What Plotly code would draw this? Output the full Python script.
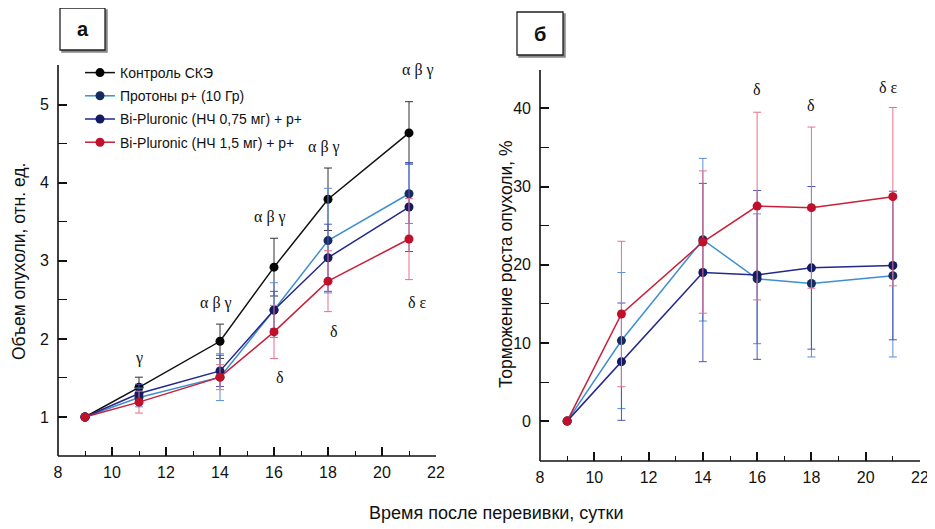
import plotly.graph_objects as go

days = [9, 11, 14, 16, 18, 21]

series_names = ["Контроль СКЭ", "Протоны p+ (10 Гр)",
                "Bi-Pluronic (НЧ 0,75 мг) + p+", "Bi-Pluronic (НЧ 1,5 мг) + p+"]

# Panel a: tumour volume, relative units
vol_control = [1.0, 1.38, 1.97, 2.92, 3.79, 4.64]
vol_control_err = [0, 0.13, 0.22, 0.37, 0.40, 0.40]
vol_protons = [1.0, 1.25, 1.51, 2.37, 3.26, 3.86]
vol_protons_err = [0, 0.12, 0.30, 0.35, 0.67, 0.38]
vol_np075 = [1.0, 1.30, 1.59, 2.37, 3.04, 3.69]
vol_np075_err = [0, 0.12, 0.20, 0.24, 0.43, 0.57]
vol_np15 = [1.0, 1.19, 1.51, 2.09, 2.74, 3.28]
vol_np15_err = [0, 0.14, 0.16, 0.34, 0.39, 0.52]

# Panel б: tumour growth inhibition, %
inh_protons = [0, 10.3, 23.2, 18.2, 17.6, 18.6]
inh_protons_err = [0, 8.7, 10.4, 8.3, 9.4, 10.4]
inh_np075 = [0, 7.6, 19.0, 18.7, 19.6, 19.9]
inh_np075_err = [0, 7.5, 11.4, 10.8, 10.4, 9.5]
inh_np15 = [0, 13.7, 22.9, 27.5, 27.3, 28.7]
inh_np15_err = [0, 9.3, 9.1, 12.0, 10.3, 11.4]

xticks = [8, 10, 12, 14, 16, 18, 20, 22]
vol_ticks = [1, 2, 3, 4, 5]
inh_ticks = [0, 10, 20, 30, 40]

# significance labels (x, y, text)
sig_a_x = [11.0, 13.85, 15.87, 17.85, 21.35, 16.24, 18.22, 21.3]
sig_a_y = [1.76, 2.46, 3.56, 4.46, 5.45, 1.50, 2.10, 2.47]
sig_a_t = ["γ", "α β γ", "α β γ", "α β γ", "α β γ", "δ", "δ", "δ ε"]
sig_b_x = [16.0, 18.0, 20.85]
sig_b_y = [42.4, 40.3, 42.7]
sig_b_t = ["δ", "δ", "δ ε"]

line_colors = ["#111111", "#3f8fd0", "#23288c", "#c8203a"]
marker_colors = ["#050505", "#162c5c", "#121a60", "#c0102a"]
err_colors = ["#333333", "#5a8fd8", "#4a55b8", "#e8708a"]

# page body adds an 8px margin; figure is placed at (8, 8)
W, H = 927, 521
def fx(px):
    return (px - 8) / W
def fy(py):
    return 1 - (py - 8) / H

fig = go.Figure()

vol_vals = [vol_control, vol_protons, vol_np075, vol_np15]
vol_errs = [vol_control_err, vol_protons_err, vol_np075_err, vol_np15_err]
for i in range(4):
    fig.add_trace(go.Scatter(
        x=days, y=vol_vals[i], mode="lines+markers", name=series_names[i],
        legendgroup=f"g{i}",
        line=dict(color=line_colors[i], width=1.5),
        marker=dict(color=marker_colors[i], size=9),
        error_y=dict(type="data", array=vol_errs[i], color=err_colors[i],
                     thickness=1, width=4),
        xaxis="x", yaxis="y"))

inh_vals = [inh_protons, inh_np075, inh_np15]
inh_errs = [inh_protons_err, inh_np075_err, inh_np15_err]
for j in range(3):
    i = j + 1
    fig.add_trace(go.Scatter(
        x=days, y=inh_vals[j], mode="lines+markers", name=series_names[i],
        legendgroup=f"g{i}", showlegend=False,
        line=dict(color=line_colors[i], width=1.5),
        marker=dict(color=marker_colors[i], size=9),
        error_y=dict(type="data", array=inh_errs[j], color=err_colors[i],
                     thickness=1, width=4),
        xaxis="x2", yaxis="y2"))

font_sans = "Liberation Sans Narrow, Liberation Sans, Arial, sans-serif"
tickfont = dict(family=font_sans, size=16, color="#111")

common_x = dict(range=[8, 22], tickvals=xticks, ticks="inside", ticklen=9,
                tickwidth=1.5, tickcolor="#111", showline=False,
                showgrid=False, zeroline=False, tickfont=tickfont,
                ticklabelstandoff=5, automargin=False,
                minor=dict(dtick=1, ticks="inside", ticklen=5, tickwidth=1.2,
                           tickcolor="#111"))

fig.update_layout(
    width=W, height=H,
    margin=dict(l=0, r=0, t=0, b=0, pad=0),
    paper_bgcolor="white", plot_bgcolor="white",
    showlegend=True,
    legend=dict(x=fx(80), y=fy(57), xanchor="left", yanchor="top",
                font=dict(family="Liberation Sans, Arial, sans-serif", size=14, color="#111"),
                bgcolor="rgba(0,0,0,0)", traceorder="grouped", tracegroupgap=2,
                itemwidth=30),
    xaxis=dict(domain=[fx(58), fx(436)], anchor="y", **common_x),
    xaxis2=dict(domain=[fx(540), fx(920)], anchor="y2", **common_x),
    yaxis=dict(domain=[fy(456), fy(65)], anchor="x", range=[0.5, 5.51],
               tickvals=vol_ticks, ticks="inside", ticklen=9, tickwidth=1.5,
               tickcolor="#111", showline=False,
               showgrid=False, zeroline=False, tickfont=tickfont,
               ticklabelstandoff=8, automargin=False,
               minor=dict(dtick=0.5, ticks="inside", ticklen=9, tickwidth=1.2,
                          tickcolor="#111")),
    yaxis2=dict(domain=[fy(461), fy(70)], anchor="x2", range=[-5.1, 44.9],
                tickvals=inh_ticks, ticks="inside", ticklen=9, tickwidth=1.5,
                tickcolor="#111", showline=False,
                showgrid=False, zeroline=False, tickfont=tickfont,
                ticklabelstandoff=8, automargin=False,
                minor=dict(dtick=5, ticks="inside", ticklen=9, tickwidth=1.2,
                           tickcolor="#111")),
)

# axis lines drawn along the subplot domains
for xr, yr in [("x domain", "y domain"), ("x2 domain", "y2 domain")]:
    fig.add_shape(type="line", xref=xr, yref=yr, x0=0, x1=0, y0=0, y1=1,
                  line=dict(color="#111", width=1.6))
    fig.add_shape(type="line", xref=xr, yref=yr, x0=0, x1=1, y0=0, y1=0,
                  line=dict(color="#111", width=1.6))

greek_font = dict(family="Liberation Serif, DejaVu Serif, serif", size=16, color="#111")
for x, y, t in zip(sig_a_x, sig_a_y, sig_a_t):
    fig.add_annotation(x=x, y=y, text=t, xref="x", yref="y", showarrow=False,
                       xanchor="center", yanchor="middle", font=greek_font)
for x, y, t in zip(sig_b_x, sig_b_y, sig_b_t):
    fig.add_annotation(x=x, y=y, text=t, xref="x2", yref="y2", showarrow=False,
                       xanchor="center", yanchor="middle", font=greek_font)

title_font = dict(family=font_sans, size=17.5, color="#111")
fig.add_annotation(x=fx(19), y=fy(262), xref="paper", yref="paper",
                   text="Объем опухоли, отн. ед.", textangle=-90,
                   xanchor="center", yanchor="middle",
                   showarrow=False, font=title_font)
fig.add_annotation(x=fx(506), y=fy(264), xref="paper", yref="paper",
                   text="Торможение роста опухоли, %", textangle=-90,
                   xanchor="center", yanchor="middle",
                   showarrow=False, font=title_font)
fig.add_annotation(x=fx(497), y=fy(513), xref="paper", yref="paper",
                   text="Время после перевивки, сутки",
                   xanchor="center", yanchor="middle",
                   showarrow=False, font=dict(family=font_sans, size=18, color="#111"))

# panel label boxes (with a slight shadow on the right and bottom)
for (x0, y0, x1, y1, lab) in [(60, 8, 105, 50, "а"), (517, 12, 563, 55, "б")]:
    fig.add_shape(type="rect", xref="paper", yref="paper",
                  x0=fx(x0 + 2), x1=fx(x1 + 2), y0=fy(y1 + 2), y1=fy(y0 + 2),
                  line=dict(color="#888", width=1.5), fillcolor="#888")
    fig.add_shape(type="rect", xref="paper", yref="paper",
                  x0=fx(x0), x1=fx(x1), y0=fy(y1), y1=fy(y0),
                  line=dict(color="#222", width=1.3), fillcolor="white")
    fig.add_annotation(x=fx((x0 + x1) / 2), y=fy((y0 + y1) / 2), xref="paper", yref="paper",
                       text=f"<b>{lab}</b>", showarrow=False,
                       xanchor="center", yanchor="middle",
                       font=dict(family="Liberation Sans, Arial, sans-serif", size=20, color="#111"))

fig.write_html("out.html")
